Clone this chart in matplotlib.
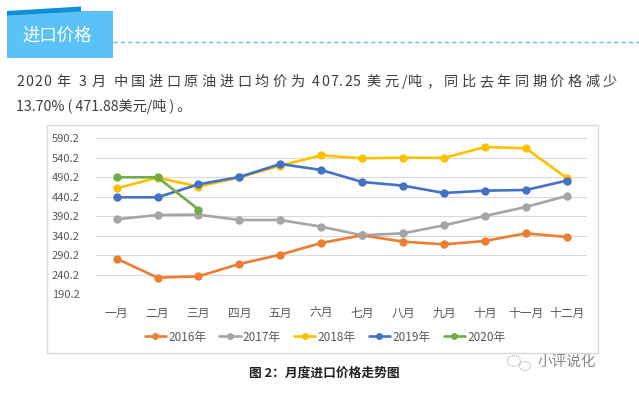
import numpy as np
import matplotlib
matplotlib.use("Agg")
import matplotlib.pyplot as plt
from matplotlib.patches import Rectangle, Polygon, Ellipse

plt.rcParams['font.family'] = ['Noto Sans CJK SC', 'DejaVu Sans']

months = ["一月", "二月", "三月", "四月", "五月", "六月",
          "七月", "八月", "九月", "十月", "十一月", "十二月"]
p2016 = [281.0, 232.2, 235.6, 267.3, 291.3, 321.3, 341.0, 324.7, 317.8, 326.4, 346.1, 336.7]
p2017 = [382.1, 393.2, 394.1, 380.3, 380.3, 363.2, 341.0, 346.1, 366.6, 390.6, 413.8, 442.0]
p2018 = [461.7, 489.1, 466.0, 490.0, 520.0, 546.5, 538.8, 540.5, 539.7, 567.9, 564.5, 488.0]
p2019 = [438.6, 438.6, 472.0, 490.8, 524.2, 508.8, 478.0, 468.6, 449.7, 455.7, 457.4, 481.4]
p2020 = [490.0, 490.0, 407.25]
series = [("2016年", p2016, "#ED7D31"), ("2017年", p2017, "#A5A5A5"),
          ("2018年", p2018, "#FFC000"), ("2019年", p2019, "#4472C4"),
          ("2020年", p2020, "#70AD47")]
yticks = np.arange(190.2, 590.3, 50)

W, H = 639, 395
fig = plt.figure(figsize=(W / 100, H / 100), dpi=100)

# background axes in pixel coordinates for the page decorations
bg = fig.add_axes([0, 0, 1, 1])
bg.set_xlim(0, W)
bg.set_ylim(H, 0)
bg.axis("off")

# title banner
bg.add_patch(Rectangle((7, 11), 106, 47, color="#5BC2F7", lw=0))
bg.add_patch(Polygon([(7, 11), (81, 6.5), (81, 11.5), (7, 15.5)], color="#0E8FD8", lw=0))
bg.text(22, 36, "进口价格", color="white", fontsize=12.5, va="center", ha="left")
bg.plot([113, W], [41.5, 41.5], color="#5BC2F7", lw=1, dashes=(3, 2.3))

# body text, first line has letter spacing
renderer = fig.canvas.get_renderer()


def text_w(s, **kw):
    t = bg.text(0, 0, s, **kw)
    w = t.get_window_extent(renderer).width
    t.remove()
    return w


def spaced_text(x, y, s, right, **kw):
    base = text_w("xx", **kw)
    adv = [text_w("x" + c + "x", **kw) - base for c in s]
    wts = [1.0 if ord(c) > 0x2e80 else 0.3 for c in s]
    extra = (right - x - sum(adv)) / sum(wts[:-1])
    for c, a, wt in zip(s, adv, wts):
        bg.text(x, y, c, ha="left", va="center", **kw)
        x += a + extra * wt


body = dict(fontsize=10.2, color="#3E3E3E")
spaced_text(16, 82, "2020 年 3 月 中国进口原油进口均价为 407.25 美元/吨，同比去年同期价格减少", 617, **body)
bg.text(16, 107, "13.70% ( 471.88美元/吨 ) 。", ha="left", va="center", **body)

# chart frame
bg.add_patch(Rectangle((47, 125), 551, 228, fill=False, ec="#D9D9D9", lw=1))

ax = fig.add_axes([96.2 / W, 1 - 294 / H, (587.2 - 96.2) / W, (294 - 138.3) / H])
x = np.arange(len(months))
handles = []
for name, vals, col in series:
    h, = ax.plot(x[:len(vals)], vals, color=col, lw=1.9, marker="o", ms=5,
                 label=name, solid_capstyle="round")
    handles.append(h)

ax.set_xlim(-0.5, 11.5)
ax.set_ylim(190.2, 590.2)
ax.set_yticks(yticks)
ax.set_yticklabels([f"{v:.1f}" for v in yticks])
ax.set_xticks(x)
ax.set_xticklabels(months)
ax.grid(axis="y", color="#D9D9D9", lw=0.8)
ax.set_axisbelow(True)
for s in ax.spines.values():
    s.set_visible(False)
ax.tick_params(axis="y", length=0, pad=12, labelsize=8, labelcolor="#595959")
ax.tick_params(axis="x", length=0, pad=9, labelsize=8.5, labelcolor="#595959")

fig.legend(handles=handles, loc="center", bbox_to_anchor=(325 / W, 1 - 337 / H),
           ncol=5, frameon=False, fontsize=8.5, labelcolor="#595959",
           handlelength=1.8, handletextpad=0.2, columnspacing=1.1, markerscale=0.8)

# caption and watermark
bg.text(324, 373, "图 2：月度进口价格走势图", ha="center", va="center",
        fontsize=9.2, fontweight="bold", color="#222222")
bg.add_patch(Ellipse((514, 361), 13, 11, fill=False, ec="#AAAAAA", lw=0.8, ls=(0, (1, 1))))
bg.add_patch(Ellipse((525, 366), 11, 9, fill=False, ec="#AAAAAA", lw=0.8, ls=(0, (1, 1))))
bg.text(538, 362, "小评说化", ha="left", va="center", fontsize=10.5, color="#888888")

fig.savefig("out.png", dpi=100)
